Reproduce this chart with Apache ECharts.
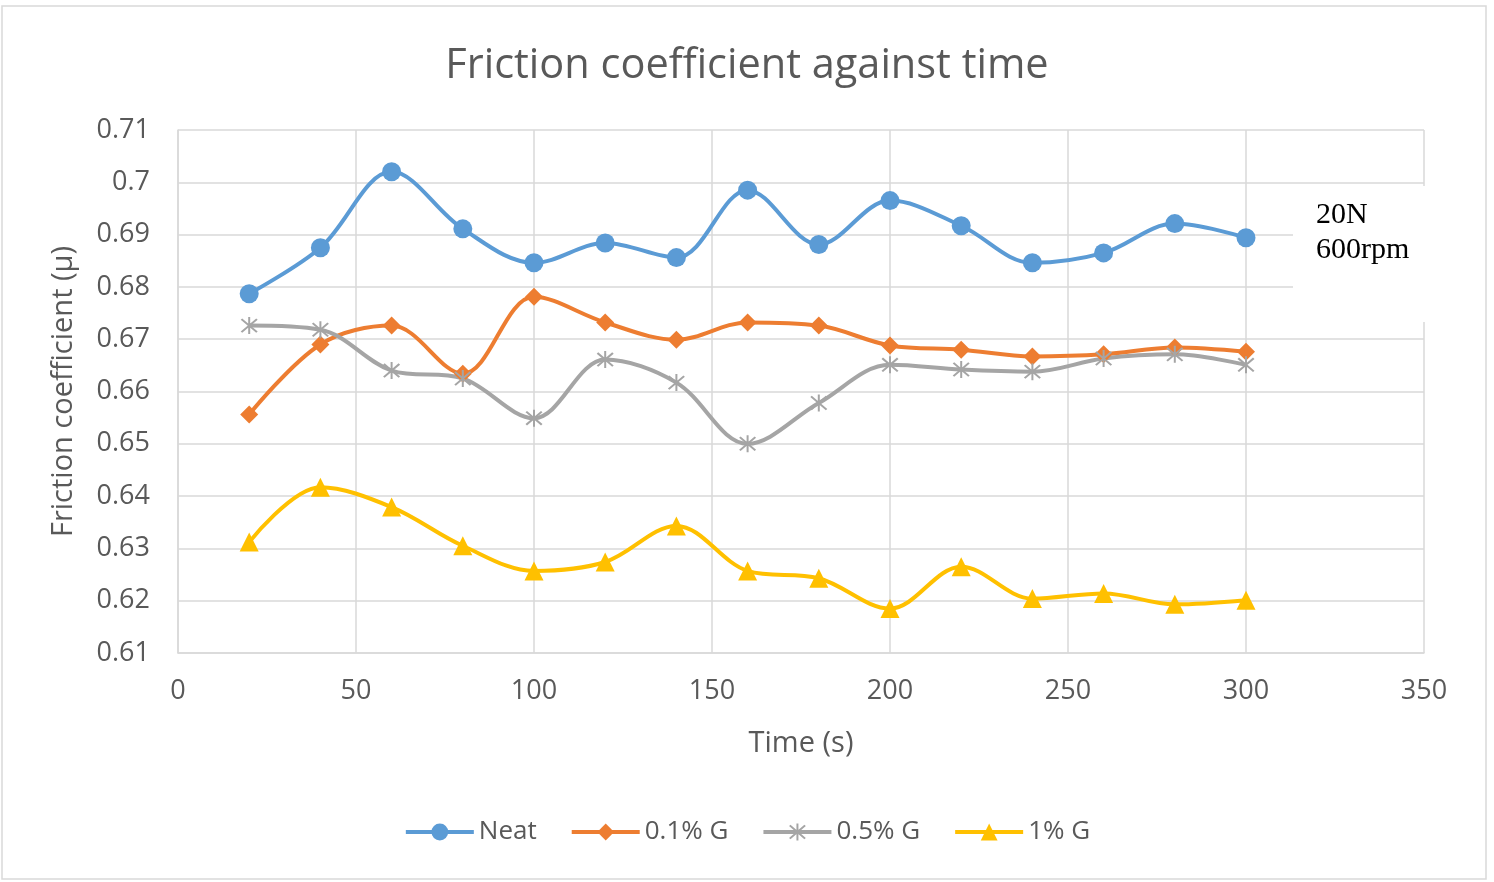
<!DOCTYPE html>
<html>
<head>
<meta charset="utf-8">
<script src="https://cdn.jsdelivr.net/npm/echarts@6/dist/echarts.min.js"></script>
<style>
  html, body { margin: 0; padding: 0; background: #fff; }
  #chart { width: 1494px; height: 882px; }
</style>
</head>
<body>
<div id="chart"></div>
<script>
// Sampling times (s)
const times = [20, 40, 60, 80, 100, 120, 140, 160, 180, 200, 220, 240, 260, 280, 300];

// Friction coefficient per lubricant
const neat  = [0.6787, 0.6875, 0.7020, 0.6911, 0.6846, 0.6884, 0.6856, 0.6985, 0.6881, 0.6965, 0.6917, 0.6846, 0.6865, 0.6921, 0.6894];
const g01   = [0.6556, 0.6690, 0.6726, 0.6634, 0.6781, 0.6732, 0.6699, 0.6732, 0.6726, 0.6688, 0.6680, 0.6667, 0.6671, 0.6684, 0.6676];
const g05   = [0.6726, 0.6718, 0.6640, 0.6625, 0.6549, 0.6661, 0.6617, 0.6500, 0.6578, 0.6651, 0.6642, 0.6638, 0.6663, 0.6671, 0.6651];
const g1    = [0.6312, 0.6417, 0.6379, 0.6305, 0.6257, 0.6274, 0.6343, 0.6257, 0.6243, 0.6185, 0.6265, 0.6204, 0.6214, 0.6193, 0.6201];

const seriesNames = ['Neat', '0.1% G', '0.5% G', '1% G'];
const noteLines = ['20N', '600rpm'];

const textColor = '#595959';
const gridColor = '#d9d9d9';
const font = 'Open Sans';

// asterisk marker: vertical bar plus two diagonals
const starPath = 'path://M9,0 L11,0 L11,20 L9,20 Z M1.5,3 L3,1.5 L18.5,17 L17,18.5 Z M17,1.5 L18.5,3 L3,18.5 L1.5,17 Z';

function pairs(vals) { return times.map((t, i) => [t, vals[i]]); }

function makeSeries(name, vals, color, symbol, size) {
  return {
    name: name,
    type: 'line',
    data: pairs(vals),
    smooth: 0.35,
    symbol: symbol,
    symbolSize: size,
    showAllSymbol: true,
    lineStyle: { color: color, width: 4 },
    itemStyle: { color: color, borderColor: color, borderWidth: 0 },
    emphasis: { disabled: true },
    z: 3
  };
}

const chart = echarts.init(document.getElementById('chart'), null, { renderer: 'canvas' });

chart.setOption({
  animation: false,
  backgroundColor: '#ffffff',
  title: {
    text: 'Friction coefficient against time',
    left: 'center',
    top: 40,
    textStyle: { fontFamily: font, fontSize: 41.5, fontWeight: 'normal', color: textColor }
  },
  grid: { left: 178, right: 70, top: 130, bottom: 229, containLabel: false },
  xAxis: {
    type: 'value',
    min: 0, max: 350, interval: 50,
    name: 'Time (s)',
    nameLocation: 'middle',
    nameGap: 76,
    nameTextStyle: { fontFamily: font, fontSize: 29, color: textColor },
    axisLine: { show: true, lineStyle: { color: gridColor, width: 1.5 } },
    axisTick: { show: false },
    axisLabel: { fontFamily: font, fontSize: 27, color: textColor, margin: 25 },
    splitLine: { show: true, lineStyle: { color: gridColor, width: 1.5 } }
  },
  yAxis: {
    type: 'value',
    min: 0.61, max: 0.71, interval: 0.01,
    name: 'Friction coefficient (µ)',
    nameLocation: 'middle',
    nameGap: 100,
    nameTextStyle: { fontFamily: font, fontSize: 29, color: textColor },
    axisLine: { show: true, lineStyle: { color: gridColor, width: 1.5 } },
    axisTick: { show: false },
    axisLabel: { fontFamily: font, fontSize: 27, color: textColor, margin: 28,
      formatter: v => String(parseFloat(v.toFixed(2))) },
    splitLine: { show: true, lineStyle: { color: gridColor, width: 1.5 } }
  },
  legend: {
    data: seriesNames,
    bottom: 32,
    left: 'center',
    itemWidth: 68,
    itemHeight: 21,
    itemGap: 33,
    lineStyle: { width: 4 },
    textStyle: { fontFamily: font, fontSize: 26, color: textColor, padding: [0, 0, 0, 0] }
  },
  series: [
    makeSeries(seriesNames[0], neat, '#5b9bd5', 'circle', 19),
    makeSeries(seriesNames[1], g01, '#ed7d31', 'diamond', 18),
    makeSeries(seriesNames[2], g05, '#a5a5a5', starPath, 17),
    makeSeries(seriesNames[3], g1, '#ffc000', 'triangle', 19)
  ],
  graphic: [
    {
      type: 'rect',
      z: 0,
      silent: true,
      shape: { x: 2, y: 6, width: 1484, height: 873 },
      style: { fill: 'none', stroke: gridColor, lineWidth: 1.5 }
    },
    {
      type: 'rect',
      z: 50,
      silent: true,
      shape: { x: 1293, y: 186, width: 150, height: 136 },
      style: { fill: '#ffffff' }
    },
    {
      type: 'text',
      z: 51,
      silent: true,
      left: 1316,
      top: 198,
      style: {
        text: noteLines.join('\n'),
        fontFamily: 'Liberation Serif',
        fontSize: 30,
        lineHeight: 35,
        fill: '#000000'
      }
    }
  ]
});
</script>
</body>
</html>
